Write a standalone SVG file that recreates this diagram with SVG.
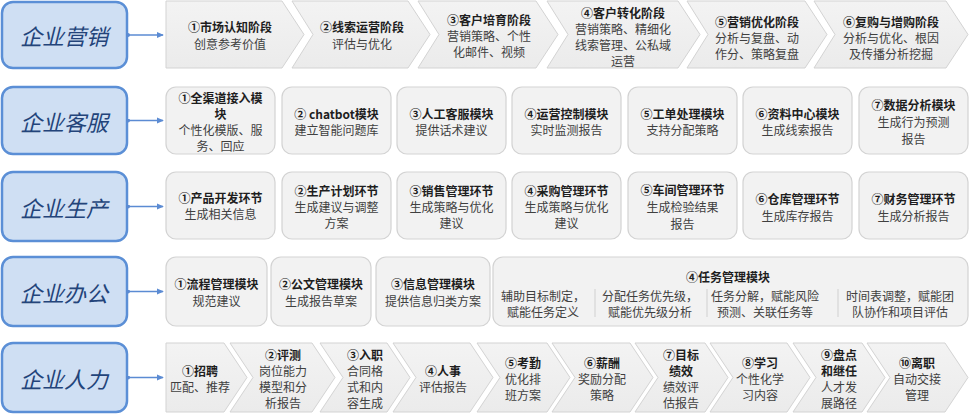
<svg xmlns="http://www.w3.org/2000/svg" width="970" height="416" viewBox="0 0 970 416">
<defs>
<marker id="ah" viewBox="0 0 8 8" refX="7" refY="4" markerWidth="7" markerHeight="7" markerUnits="userSpaceOnUse" orient="auto"><path d="M0,0.5 L8,4 L0,7.5 Z" fill="#5b8bd3"/></marker>
<marker id="dot" viewBox="0 0 4 4" refX="2" refY="2" markerWidth="4" markerHeight="4" markerUnits="userSpaceOnUse"><circle cx="2" cy="2" r="2" fill="#5b8bd3"/></marker>
<linearGradient id="cg" x1="0" y1="0" x2="0" y2="1"><stop offset="0" stop-color="#f3f3f3"/><stop offset="1" stop-color="#ebebeb"/></linearGradient>
</defs>
<style>
.lb{fill:#cfdff3;stroke:#5b8fd6;stroke-width:2.5}
.lt{font-family:"Noto Sans CJK SC",sans-serif;font-size:22px;font-style:italic;fill:#23447a;text-anchor:middle;dominant-baseline:central}
.ch{fill:url(#cg);stroke:#d3d3d3;stroke-width:1}
.cd{fill:#f2f2f2;stroke:#d3d3d3;stroke-width:1.2}
.t{font-family:"Noto Sans CJK SC",sans-serif;font-size:12px;font-weight:bold;fill:#1e1e1e;text-anchor:middle;dominant-baseline:central}
.b{font-family:"Noto Sans CJK SC",sans-serif;font-size:12px;fill:#404040;text-anchor:middle;dominant-baseline:central}
.cn{stroke:#5b8bd3;stroke-width:1.3;fill:none;marker-end:url(#ah);marker-start:url(#dot)}
.sp{stroke:#d0d0d0;stroke-width:1}
</style>
<rect width="970" height="416" fill="#ffffff"/>

<!-- left category boxes -->
<g id="cat-marketing"><rect class="lb" x="2" y="2" width="125" height="66" rx="11"/><text class="lt" x="64" y="35">企业营销</text></g>
<g id="cat-service"><rect class="lb" x="2" y="87" width="125" height="67" rx="11"/><text class="lt" x="64" y="120.5">企业客服</text></g>
<g id="cat-production"><rect class="lb" x="2" y="172" width="125" height="69" rx="11"/><text class="lt" x="64" y="206.5">企业生产</text></g>
<g id="cat-office"><rect class="lb" x="2" y="257" width="125" height="69" rx="11"/><text class="lt" x="64" y="291.5">企业办公</text></g>
<g id="cat-hr"><rect class="lb" x="2" y="343" width="125" height="69" rx="11"/><text class="lt" x="64" y="377.5">企业人力</text></g>

<!-- connectors -->
<g id="connectors">
<line class="cn" x1="128" y1="35" x2="163" y2="35"/>
<line class="cn" x1="128" y1="120.5" x2="163" y2="120.5"/>
<line class="cn" x1="128" y1="206.5" x2="163" y2="206.5"/>
<line class="cn" x1="128" y1="291.5" x2="163" y2="291.5"/>
<line class="cn" x1="128" y1="377.5" x2="163" y2="377.5"/>
</g>

<!-- row 1: marketing chevrons -->
<g id="m1"><path class="ch" d="M166,1 H282 L304,34.5 L282,68 H166 Z"/><text class="t" x="230" y="26">①市场认知阶段</text><text class="b" x="230" y="43">创意参考价值</text></g>
<g id="m2"><path class="ch" d="M292,1 H408 L430,34.5 L408,68 H292 L313,34.5 Z"/><text class="t" x="362" y="26">②线索运营阶段</text><text class="b" x="362" y="43">评估与优化</text></g>
<g id="m3"><path class="ch" d="M418,1 H536 L558,34.5 L536,68 H418 L439,34.5 Z"/><text class="t" x="489" y="19">③客户培育阶段</text><text class="b" x="489" y="35">营销策略、个性</text><text class="b" x="489" y="51">化邮件、视频</text></g>
<g id="m4"><path class="ch" d="M547,1 H678 L700,34.5 L678,68 H547 L568,34.5 Z"/><text class="t" x="623" y="12">④客户转化阶段</text><text class="b" x="623" y="28">营销策略、精细化</text><text class="b" x="623" y="44">线索管理、公私域</text><text class="b" x="623" y="60">运营</text></g>
<g id="m5"><path class="ch" d="M687,1 H805 L827,34.5 L805,68 H687 L708,34.5 Z"/><text class="t" x="757" y="21">⑤营销优化阶段</text><text class="b" x="757" y="37">分析与复盘、动</text><text class="b" x="757" y="53">作分、策略复盘</text></g>
<g id="m6"><path class="ch" d="M814,1 H946 L968,34.5 L946,68 H814 L835,34.5 Z"/><text class="t" x="891" y="21">⑥复购与增购阶段</text><text class="b" x="891" y="37">分析与优化、根因</text><text class="b" x="891" y="53">及传播分析挖掘</text></g>

<!-- row 2: service cards -->
<g id="s1"><rect class="cd" x="166" y="87" width="109" height="67" rx="10"/><text class="t" x="220.5" y="97">①全渠道接入模</text><text class="t" x="220.5" y="113">块</text><text class="b" x="220.5" y="129">个性化模版、服</text><text class="b" x="220.5" y="145">务、回应</text></g>
<g id="s2"><rect class="cd" x="282" y="87" width="109" height="67" rx="10"/><text class="t" x="336.5" y="113">② chatbot模块</text><text class="b" x="336.5" y="129">建立智能问题库</text></g>
<g id="s3"><rect class="cd" x="397" y="87" width="109" height="67" rx="10"/><text class="t" x="451.5" y="113">③人工客服模块</text><text class="b" x="451.5" y="129">提供话术建议</text></g>
<g id="s4"><rect class="cd" x="512" y="87" width="109" height="67" rx="10"/><text class="t" x="566.5" y="113">④运营控制模块</text><text class="b" x="566.5" y="129">实时监测报告</text></g>
<g id="s5"><rect class="cd" x="628" y="87" width="109" height="67" rx="10"/><text class="t" x="682.5" y="113">⑤工单处理模块</text><text class="b" x="682.5" y="129">支持分配策略</text></g>
<g id="s6"><rect class="cd" x="743" y="87" width="109" height="67" rx="10"/><text class="t" x="797.5" y="113">⑥资料中心模块</text><text class="b" x="797.5" y="129">生成线索报告</text></g>
<g id="s7"><rect class="cd" x="859" y="87" width="109" height="67" rx="10"/><text class="t" x="913.5" y="104">⑦数据分析模块</text><text class="b" x="913.5" y="121">生成行为预测</text><text class="b" x="913.5" y="138">报告</text></g>

<!-- row 3: production cards -->
<g id="p1"><rect class="cd" x="166" y="172" width="109" height="67" rx="10"/><text class="t" x="220.5" y="197">①产品开发环节</text><text class="b" x="220.5" y="213">生成相关信息</text></g>
<g id="p2"><rect class="cd" x="282" y="172" width="109" height="67" rx="10"/><text class="t" x="336.5" y="190">②生产计划环节</text><text class="b" x="336.5" y="206">生成建议与调整</text><text class="b" x="336.5" y="222">方案</text></g>
<g id="p3"><rect class="cd" x="397" y="172" width="109" height="67" rx="10"/><text class="t" x="451.5" y="190">③销售管理环节</text><text class="b" x="451.5" y="206">生成策略与优化</text><text class="b" x="451.5" y="222">建议</text></g>
<g id="p4"><rect class="cd" x="512" y="172" width="109" height="67" rx="10"/><text class="t" x="566.5" y="190">④采购管理环节</text><text class="b" x="566.5" y="206">生成策略与优化</text><text class="b" x="566.5" y="222">建议</text></g>
<g id="p5"><rect class="cd" x="628" y="172" width="109" height="67" rx="10"/><text class="t" x="682.5" y="189">⑤车间管理环节</text><text class="b" x="682.5" y="206">生成检验结果</text><text class="b" x="682.5" y="223">报告</text></g>
<g id="p6"><rect class="cd" x="743" y="172" width="109" height="67" rx="10"/><text class="t" x="797.5" y="198">⑥仓库管理环节</text><text class="b" x="797.5" y="215">生成库存报告</text></g>
<g id="p7"><rect class="cd" x="859" y="172" width="109" height="67" rx="10"/><text class="t" x="913.5" y="198">⑦财务管理环节</text><text class="b" x="913.5" y="215">生成分析报告</text></g>

<!-- row 4: office cards -->
<g id="o1"><rect class="cd" x="166" y="257" width="101" height="69" rx="10"/><text class="t" x="216.5" y="283">①流程管理模块</text><text class="b" x="216.5" y="300">规范建议</text></g>
<g id="o2"><rect class="cd" x="271" y="257" width="100" height="69" rx="10"/><text class="t" x="321" y="283">②公文管理模块</text><text class="b" x="321" y="300">生成报告草案</text></g>
<g id="o3"><rect class="cd" x="376" y="257" width="114" height="69" rx="10"/><text class="t" x="433" y="283">③信息管理模块</text><text class="b" x="433" y="300">提供信息归类方案</text></g>
<g id="o4"><rect class="cd" x="493" y="257" width="475" height="69" rx="10"/><text class="t" x="728" y="276">④任务管理模块</text>
<line class="sp" x1="595" y1="289" x2="595" y2="317"/><line class="sp" x1="707" y1="289" x2="707" y2="317"/><line class="sp" x1="838" y1="289" x2="838" y2="317"/>
<text class="b" x="543" y="295">辅助目标制定，</text><text class="b" x="543" y="311">赋能任务定义</text>
<text class="b" x="650" y="295">分配任务优先级，</text><text class="b" x="650" y="311">赋能优先级分析</text>
<text class="b" x="765" y="295">任务分解，赋能风险</text><text class="b" x="765" y="311">预测、关联任务等</text>
<text class="b" x="900" y="295">时间表调整，赋能团</text><text class="b" x="900" y="311">队协作和项目评估</text></g>

<!-- row 5: HR chevrons -->
<g id="h1"><path class="ch" d="M166,343 H224 L247,377.5 L224,412 H166 Z"/><text class="t" x="200" y="370">①招聘</text><text class="b" x="200" y="386">匹配、推荐</text></g>
<g id="h2"><path class="ch" d="M230,343 H312 L335,377.5 L312,412 H230 L253,377.5 Z"/><text class="t" x="283" y="354">②评测</text><text class="b" x="283" y="370">岗位能力</text><text class="b" x="283" y="386">模型和分</text><text class="b" x="283" y="402">析报告</text></g>
<g id="h3"><path class="ch" d="M320,343 H387 L410,377.5 L387,412 H320 L343,377.5 Z"/><text class="t" x="365" y="354">③入职</text><text class="b" x="365" y="370">合同格</text><text class="b" x="365" y="386">式和内</text><text class="b" x="365" y="402">容生成</text></g>
<g id="h4"><path class="ch" d="M393,343 H470 L493,377.5 L470,412 H393 L416,377.5 Z"/><text class="t" x="443" y="370">④人事</text><text class="b" x="443" y="386">评估报告</text></g>
<g id="h5"><path class="ch" d="M477,343 H547 L570,377.5 L547,412 H477 L500,377.5 Z"/><text class="t" x="523" y="362">⑤考勤</text><text class="b" x="523" y="378">优化排</text><text class="b" x="523" y="394">班方案</text></g>
<g id="h6"><path class="ch" d="M552,343 H630 L653,377.5 L630,412 H552 L575,377.5 Z"/><text class="t" x="602" y="362">⑥薪酬</text><text class="b" x="602" y="378">奖励分配</text><text class="b" x="602" y="394">策略</text></g>
<g id="h7"><path class="ch" d="M635,343 H705 L728,377.5 L705,412 H635 L658,377.5 Z"/><text class="t" x="681" y="354">⑦目标</text><text class="t" x="681" y="370">绩效</text><text class="b" x="681" y="386">绩效评</text><text class="b" x="681" y="402">估报告</text></g>
<g id="h8"><path class="ch" d="M710,343 H787 L810,377.5 L787,412 H710 L733,377.5 Z"/><text class="t" x="760" y="362">⑧学习</text><text class="b" x="760" y="378">个性化学</text><text class="b" x="760" y="394">习内容</text></g>
<g id="h9"><path class="ch" d="M793,343 H862 L885,377.5 L862,412 H793 L816,377.5 Z"/><text class="t" x="839" y="354">⑨盘点</text><text class="t" x="839" y="370">和继任</text><text class="b" x="839" y="386">人才发</text><text class="b" x="839" y="402">展路径</text></g>
<g id="h10"><path class="ch" d="M867,343 H945 L968,377.5 L945,412 H867 L890,377.5 Z"/><text class="t" x="917" y="362">⑩离职</text><text class="b" x="917" y="378">自动交接</text><text class="b" x="917" y="394">管理</text></g>
</svg>
